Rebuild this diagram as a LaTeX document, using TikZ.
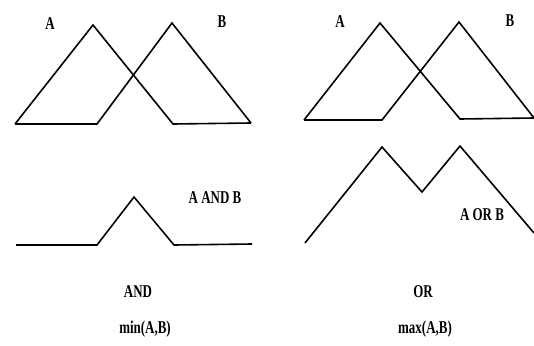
\documentclass[tikz,border=0pt]{standalone}
\usepackage{fontspec}
\newfontfamily\labfont{Liberation Serif}[FakeStretch=0.72]
\usetikzlibrary{positioning}
\tikzset{
  memb/.style={line width=1.6pt,line join=miter},
  lab/.style={font=\labfont\bfseries\fontsize{18}{20}\selectfont,inner sep=0pt,anchor=base},
}

\begin{document}
\begin{tikzpicture}[x=1pt,y=-1pt]
\useasboundingbox (0,0) rectangle (534,345);
% left: the two sets and their AND
\draw[memb] (15,124) -- (93,25) -- (173,124) -- (251,123);
\draw[memb] (15,124) -- (97,124) -- (172,23) -- (251,123);
\node[lab] (setAl) at (50,30) {A};
\node[lab] (setBl) at (222,28) {B};
\draw[memb] (16,245) -- (97,245) -- (134,197) -- (174,245) -- (252,244);
\node[lab] (andlab) at (215,203) {A AND B};
\node[lab] (andcap) at (138,297) {AND};
\node[lab] (mincap) at (145,333) {min(A,B)};
% right: the two sets and their OR
\draw[memb] (304,120) -- (380,23) -- (460,119) -- (534,118);
\draw[memb] (304,120) -- (382,120) -- (459,22) -- (534,118);
\node[lab] (setAr) at (340,28) {A};
\node[lab] (setBr) at (510,27) {B};
\draw[memb] (305,243) -- (382,147) -- (422,192) -- (460,146) -- (534,233);
\node[lab] (orlab) at (482,220) {A OR B};
\node[lab] (orcap) at (423,297) {OR};
\node[lab] (maxcap) at (425,333) {max(A,B)};
\end{tikzpicture}
\end{document}
